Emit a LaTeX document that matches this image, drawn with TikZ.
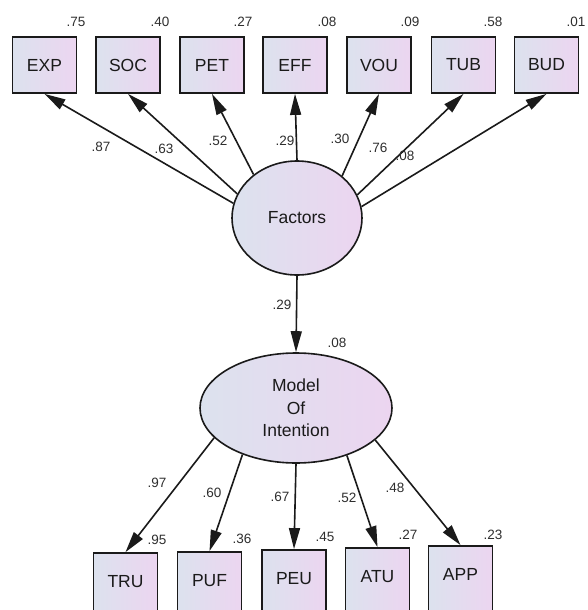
\documentclass[tikz,border=0pt]{standalone}
\usepackage{fontspec}
\setmainfont{Liberation Sans}
\usetikzlibrary{arrows.meta,shapes.geometric}
\definecolor{fillL}{HTML}{DCE2EE}
\definecolor{fillR}{HTML}{ECD5F0}
\definecolor{ink}{HTML}{1A1A1A}
\definecolor{numink}{HTML}{2E2E2E}
\begin{document}
\begin{tikzpicture}[x=1pt,y=-1pt,
  obsbox/.style={rectangle,draw=ink,line width=1.8pt,left color=fillL,right color=fillR,
    minimum width=64pt,minimum height=56pt,inner sep=0pt,
    font=\fontsize{17.5}{19}\selectfont,text=ink},
  latent/.style={ellipse,draw=ink,line width=1.6pt,left color=fillL,right color=fillR,
    inner sep=0pt,font=\fontsize{17.5}{22.5}\selectfont,text=ink,align=center},
  path/.style={draw=ink,line width=1.6pt,-{Triangle[length=21pt,width=11pt]}},
  coef/.style={font=\fontsize{13.5}{15}\selectfont,text=numink,inner sep=0pt}]
\useasboundingbox (0,0) rectangle (587,610);

% latent variables
\node[latent,minimum width=130pt,minimum height=114pt] (F) at (297,218) {Factors};
\node[latent,minimum width=192pt,minimum height=110pt] (M) at (296,408)
  {Model\\Of\\Intention};

% indicators of Factors
\node[obsbox] (EXP) at (44.5,65) {EXP};
\node[obsbox] (SOC) at (128,65) {SOC};
\node[obsbox] (PET) at (212,65) {PET};
\node[obsbox] (EFF) at (295,65) {EFF};
\node[obsbox] (VOU) at (379,65) {VOU};
\node[obsbox] (TUB) at (463.5,65) {TUB};
\node[obsbox] (BUD) at (546.5,65) {BUD};

% indicators of Model Of Intention (they run past the lower edge)
\node[obsbox,minimum height=66pt,text depth=10pt] (TRU) at (125.5,586) {TRU};
\node[obsbox,minimum height=66pt,text depth=10pt] (PUF) at (209.5,585) {PUF};
\node[obsbox,minimum height=66pt,text depth=10pt] (PEU) at (294,583) {PEU};
\node[obsbox,minimum height=66pt,text depth=10pt] (ATU) at (377.5,581) {ATU};
\node[obsbox,minimum height=66pt,text depth=10pt] (APP) at (460.5,579) {APP};

% loadings of Factors
\draw[path] (F.167.7) -- (EXP.south);
\draw[path] (F.158.4) -- (SOC.south);
\draw[path] (F.135) -- (PET.south);
\draw[path] (F.90) -- (EFF.south);
\draw[path] (F.43) -- (VOU.south);
\draw[path] (F.21.6) -- (TUB.south);
\draw[path] (F.10.6) -- (BUD.south);

% structural path
\draw[path] (F.south) -- (M.north);

% loadings of Model Of Intention
\draw[path] (M.-160.3) -- (TRU.north);
\draw[path] (M.-139.8) -- (PUF.north);
\draw[path] (M.-90) -- (PEU.north);
\draw[path] (M.-43.3) -- (ATU.north);
\draw[path] (M.-22) -- (APP.north);

% squared multiple correlations
\node[coef] (rEXP) at (76,22) {.75};
\node[coef] (rSOC) at (160,22) {.40};
\node[coef] (rPET) at (243,22) {.27};
\node[coef] (rEFF) at (327,22) {.08};
\node[coef] (rVOU) at (410,22) {.09};
\node[coef] (rTUB) at (493,22) {.58};
\node[coef] (rBUD) at (576,22) {.01};
\node[coef] (rM) at (337,343) {.08};
\node[coef] (rTRU) at (157,540) {.95};
\node[coef] (rPUF) at (242,539) {.36};
\node[coef] (rPEU) at (325,537) {.45};
\node[coef] (rATU) at (408,535) {.27};
\node[coef] (rAPP) at (493,535) {.23};

% path coefficients
\node[coef] (lEXP) at (101,147) {.87};
\node[coef] (lSOC) at (164,149) {.63};
\node[coef] (lPET) at (218,141) {.52};
\node[coef] (lEFF) at (285,141) {.29};
\node[coef] (lVOU) at (340,139) {.30};
\node[coef] (lTUB) at (378,148) {.76};
\node[coef] (lBUD) at (405,156) {.08};
\node[coef] (lFM) at (282,305) {.29};
\node[coef] (lTRU) at (157,483) {.97};
\node[coef] (lPUF) at (212,493) {.60};
\node[coef] (lPEU) at (280,497) {.67};
\node[coef] (lATU) at (347,498) {.52};
\node[coef] (lAPP) at (395,488) {.48};
\end{tikzpicture}
\end{document}
